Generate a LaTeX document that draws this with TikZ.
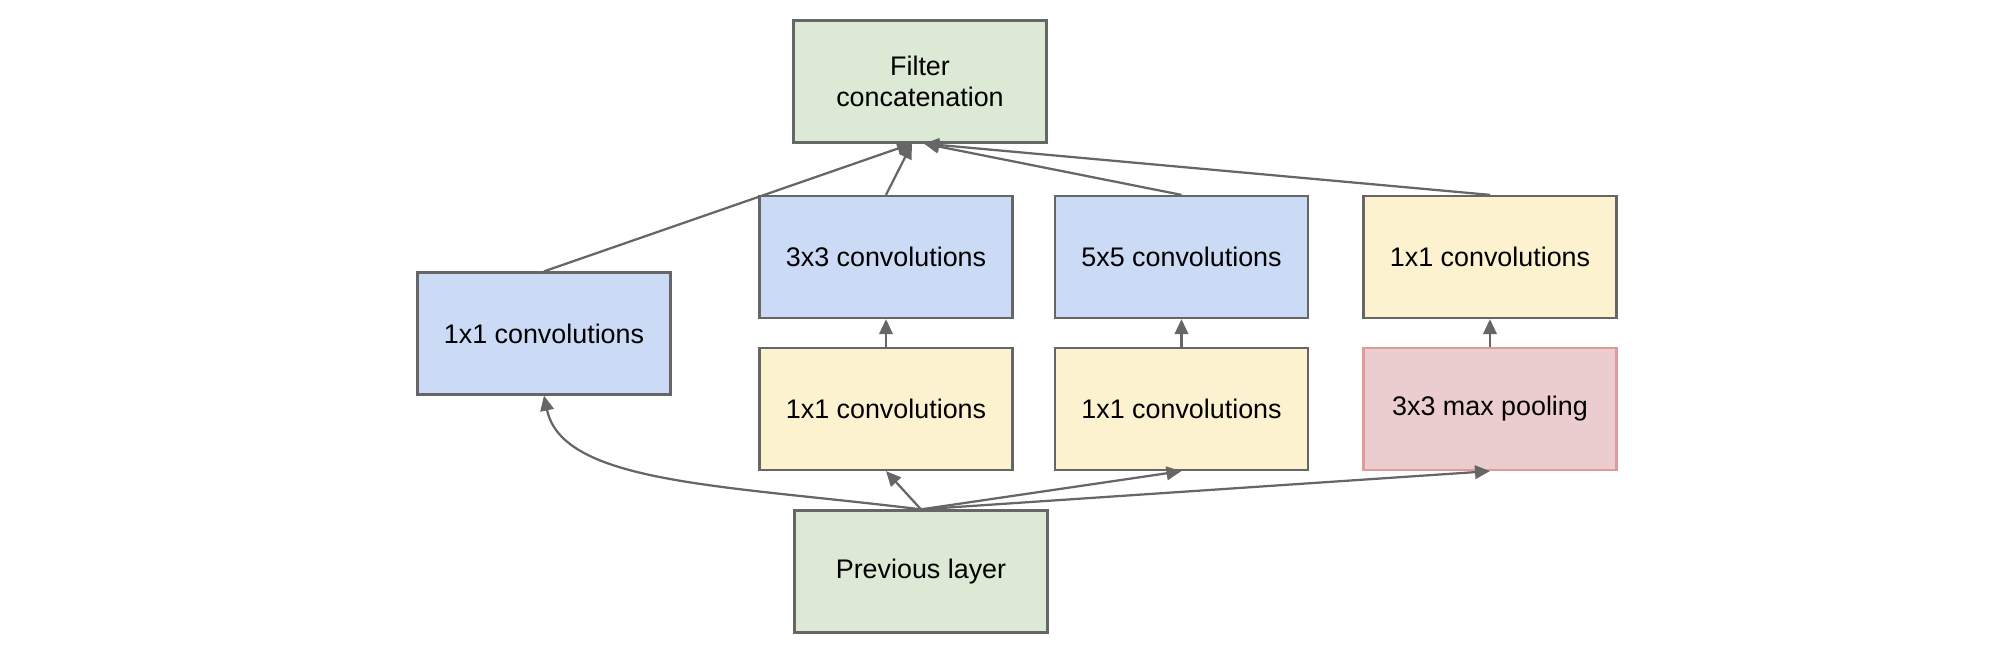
\documentclass[tikz,border=0pt]{standalone}
\usepackage{fontspec}
\setmainfont{Liberation Sans}
\usetikzlibrary{arrows.meta,calc}
\definecolor{linegray}{HTML}{666666}
\definecolor{concatgreen}{HTML}{DCE9D5}
\definecolor{convblue}{HTML}{CBDAF5}
\definecolor{reduceyellow}{HTML}{FDF2CF}
\definecolor{poolred}{HTML}{EBCCCF}
\definecolor{poolborder}{HTML}{E09A9A}

\begin{document}
\begin{tikzpicture}[scale=0.2]
            \tikzstyle{box}=[draw=linegray, line width=0.045cm, minimum width=5.06cm, minimum height=2.44cm, inner sep=0pt, align=center, font=\fontsize{15.3}{17.6}\selectfont]
            \tikzstyle{flow}=[linegray, line width=0.045cm, -{Triangle[length=0.3cm,width=0.27cm]}]
            \useasboundingbox (0,0) rectangle (200,-66.3);
            \node [box, fill=concatgreen] (filter) at (92,-8.15) {Filter\\concatenation};
            \node [box, fill=convblue] (left) at (54.4,-33.35) {1x1 convolutions};
            \node [box, fill=convblue] (conv3) at (88.6,-25.7) {3x3 convolutions};
            \node [box, fill=convblue] (conv5) at (118.15,-25.7) {5x5 convolutions};
            \node [box, fill=reduceyellow] (proj) at (149,-25.7) {1x1 convolutions};
            \node [box, fill=reduceyellow] (red3) at (88.6,-40.9) {1x1 convolutions};
            \node [box, fill=reduceyellow] (red5) at (118.15,-40.9) {1x1 convolutions};
            \node [box, draw=poolborder, fill=poolred] (pool) at (149,-40.9) {3x3 max pooling};
            \node [box, fill=concatgreen] (prev) at (92.1,-57.15) {Previous layer};
            \draw [flow] (prev.north) .. controls ($(prev.north)+(173:20)$) and ($(left.south)+(-78:9)$) .. (left.south);
            \draw [flow] (prev.north) -- (red3.south);
            \draw [flow] (prev.north) -- (red5.south);
            \draw [flow] (prev.north) -- (pool.south);
            \draw [flow] (red3.north) -- (conv3.south);
            \draw [flow] (red5.north) -- (conv5.south);
            \draw [flow] (pool.north) -- (proj.south);
            \draw [flow] (left.north) -- ($(filter.south)+(-0.8,0)$);
            \draw [flow] (conv3.north) -- ($(filter.south)+(-0.8,0)$);
            \draw [flow] (conv5.north) -- ($(filter.south)+(0.4,0)$);
            \draw [flow] (proj.north) -- ($(filter.south)+(0.4,0)$);
        \end{tikzpicture}
\end{document}
